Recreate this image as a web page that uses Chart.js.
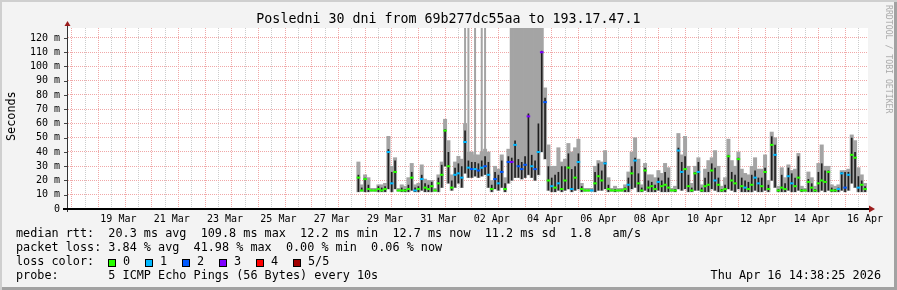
<!DOCTYPE html>
<html>
<head>
<meta charset="utf-8">
<script src="https://cdn.jsdelivr.net/npm/chart.js"></script>
<style>
html,body{margin:0;padding:0;background:#f3f3f3;}
#frame{position:relative;width:897px;height:290px;overflow:hidden;background:#f3f3f3;
  box-shadow:inset 2px 2px 0 #cfcfcf, inset -3px -3px 0 #a2a2a2;
  font-family:"DejaVu Sans Mono",monospace;color:#000;}
#c{position:absolute;left:0;top:0;}
.txt{position:absolute;white-space:pre;font-size:11.8px;line-height:14px;}
#title{position:absolute;left:0;top:10.7px;width:897px;text-align:center;font-size:13.3px;line-height:16px;white-space:pre;}
#ylab{position:absolute;left:3.9px;top:141px;transform-origin:0 0;transform:rotate(-90deg);font-size:11.8px;line-height:14px;white-space:pre;}
#wm{position:absolute;left:893.8px;top:5px;transform-origin:0 0;transform:rotate(90deg);font-size:8.2px;line-height:10px;white-space:pre;color:#aaaaaa;}
.box{position:absolute;top:258.5px;width:6px;height:6px;border:1px solid #000;}
</style>
</head>
<body>
<div id="frame">
  <canvas id="c" width="897" height="290"></canvas>
  <div id="title">Posledni 30 dni from 69b277dc55aa to 193.17.47.1</div>
  <div id="ylab">Seconds</div>
  <div id="wm">RRDTOOL / TOBI OETIKER</div>
  <div id="legend"></div>
</div>
<script>
// ================== Data (3-hour samples from 28 Mar 12:00) ==================
const startDay = 27.5;     // days since 1 Mar 00:00
const stepDays = 0.125;    // 3 hours
const axisMin = 16.6098;   // 17 Mar 14:38
const axisMax = 46.6098;   // 16 Apr 14:38

// median rtt (ms)
const median = [
  22,13,21,14,13,13,14,13,14,40, 18,26,13,13,13,14,22,13,14,21,
  15,14,16,13,18,24,55,30,15,24, 25,22,47,29,28,28,27,29,30,24,
  14,21,18,26,14,33,33,45,30,28, 31,65,30,28,40,110,75,20,16,15,
  18,14,20,29,14,22,33,14,13,13, 13,18,23,20,32,14,13,13,13,13,
  14,17,25,34,18,13,27,15,16,14, 19,16,17,15,13,13,41,26,28,16,
  13,25,26,13,16,17,27,20,17,13, 14,37,20,18,35,16,15,14,17,22,
  18,16,26,14,45,38,13,15,14,23, 18,16,22,13,13,19,15,13,18,20,
  19,26,13,13,14,25,15,24,38,36, 15,17,14
];
// smoke: lowest ping
const smokeLo = [
  12,12.5,12,12,12.5,12.5,12,12,12,14, 12,14,12.5,12,12,12,13,12,12,13,
  12,12,12,12.5,12,15,30,18,13,15, 18,15,25,22,22,23,22,23,24,15,
  12,14,13,15,12,18,20,22,22,21, 22,24,22,20,24,40,35,13,12,12,
  13,12,13,14,12,13,14,12,12.5,12.5, 12.5,12,13,13,14,12,12.5,12,12.5,12.5,
  12,12,14,15,12,12,13,12,12,12, 13,12,12,12,12.5,12,14,13,14,12,
  12,13,13,12,12,12,14,13,12,12, 12,14,13,12,14,12,12,12,12,13,
  12,12,13,12,20,15,12,12,12,13, 12,12,13,12,12.5,12,12,12,12,13,
  12,13,12,12,12,13,12,13,18,15, 12,12,12
];
// smoke: dense (dark) part top
const smokeMid = [
  24,15,22,17,13.5,13.5,16,15,16,42, 26,34,13.5,15,14,17,26,15,16,24,
  18,17,19,13.5,22,31,56,40,20,29, 32,30,55,34,33,33,32,34,37,33,
  17,26,24,34,18,37,36,48,35,33, 37,67,38,34,60,111,78,30,22,24,
  26,30,30,39,28,30,39,16,13.5,13.5, 13.5,26,32,27,33,17,13.5,14,13.5,13.5,
  15,22,30,36,25,15,29,20,19,17, 22,20,26,22,13.5,14,43,33,37,24,
  15,26,33,15,22,26,32,29,22,14, 17,38,26,24,36,22,20,19,24,27,
  22,22,29,17,51,45,14,24,18,29, 25,22,37,14,13.5,21,18,14,26,32,
  27,27,15,14,15,26,26,26,50,40, 23,20,16
];
// smoke: highest ping (body of the smoke)
const smokeHi = [
  33,17,24,22,14.5,14.5,17,17,18,51, 30,36,14.5,17,16,22,32,17,18,31,
  21,20,20,14.5,24,33,63,48,24,33, 37,35,60,40,40,38,38,40,42,40,
  20,30,28,38,22,42,127,127,127,127, 127,127,127,127,127,127,85,45,30,30,
  43,33,35,46,40,43,49,18,14.5,14.5, 14.5,30,34,33,41,22,14.5,16,14.5,14.5,
  17,26,40,50,35,17,32,24,24,22, 27,25,32,29,14.5,16,53,38,51,30,
  18,30,36,17,28,34,36,41,30,16, 22,49,34,30,40,28,25,24,30,36,
  28,28,38,20,54,50,16,29,22,31, 27,28,39,16,14.5,26,22,16,32,45,
  30,30,17,16,17,27,27,28,52,48, 29,24,18
];
// single outlier pings that went off the top of the graph (null = none)
const smokeSpike = [
  null,null,null,null,null,null,null,null,null,null, null,null,null,null,null,null,null,null,null,null,
  null,null,null,null,null,null,null,null,null,null, null,null,127,127,null,127,null,127,127,null,
  null,null,null,null,null,null,null,null,null,null, null,null,null,null,null,null,null,null,null,null,
  null,null,null,null,null,null,null,null,null,null, null,null,null,null,null,null,null,null,null,null,
  null,null,null,null,null,null,null,null,null,null, null,null,null,null,null,null,null,null,null,null,
  null,null,null,null,null,null,null,null,null,null, null,null,null,null,null,null,null,null,null,null,
  null,null,null,null,null,null,null,null,null,null, null,null,null,null,null,null,null,null,null,null,
  null,null,null,null,null,null,null,null,null,null, null,null,null
];
// lost pings out of 5
const loss = [
  0,0,0,0,0,0,0,0,0,1, 1,0,0,0,0,0,0,1,0,1,
  0,0,0,0,0,0,0,0,0,1, 1,1,1,1,2,1,2,1,2,1,
  0,2,1,2,0,2,3,1,2,2, 2,3,1,2,1,3,2,0,1,0,
  1,0,0,0,1,0,1,0,0,0, 1,0,0,0,1,0,0,0,0,0,
  0,1,0,1,0,0,0,0,0,0, 1,0,0,0,0,0,1,1,0,0,
  0,0,1,0,0,0,0,1,0,0, 0,0,0,0,0,0,1,0,0,1,
  1,0,0,0,0,1,0,0,0,1, 1,0,0,0,0,0,0,0,0,0,
  0,0,0,0,1,1,2,1,0,0, 1,0,0
];
const lossColors = ["#26ff00", "#00b8ff", "#0059ff", "#7e00ff", "#ff0000", "#a10000"];
const lossLabels = ["0", "1", "2", "3", "4", "5/5"];
const xLabels = ["19 Mar","21 Mar","23 Mar","25 Mar","27 Mar","29 Mar","31 Mar",
  "02 Apr","04 Apr","06 Apr","08 Apr","10 Apr","12 Apr","14 Apr","16 Apr"];
const firstLabelDay = 18.5; // 19 Mar 12:00, labels every 2 days

const legendLines = [
  "median rtt:  20.3 ms avg  109.8 ms max  12.2 ms min  12.7 ms now  11.2 ms sd  1.8   am/s",
  "packet loss: 3.84 % avg  41.98 % max  0.00 % min  0.06 % now",
  "loss color:",
  "probe:       5 ICMP Echo Pings (56 Bytes) every 10s"
];
const stampText = "Thu Apr 16 14:38:25 2026";
// ================== End Data ==================

// =============== Legend (html text) ===============
function renderLegend(){
  const el=document.getElementById("legend");
  let html="";
  legendLines.forEach((t,k)=>{
    html+=`<div class="txt" style="left:16px;top:${226.4+14*k}px">${t}</div>`;
  });
  lossColors.forEach((c,k)=>{
    html+=`<div class="box" style="left:${108+37*k}px;background:${c}"></div>`;
    html+=`<div class="txt" style="left:${123+37*k}px;top:254.4px">${lossLabels[k]}</div>`;
  });
  html+=`<div class="txt" style="right:16px;top:268.4px">${stampText}</div>`;
  el.innerHTML=html;
}
renderLegend();

// =============== Chart ===============
const times = median.map((_, i) => startDay + i * stepDays);
const PINK = "#f0a8a8", GRAY = "#cccccc", SMOKE = "#a4a4a4";
const tickVal = c => (c && c.tick) ? c.tick.value : NaN;

const axesPlugin = {
  id: "rrdAxes",
  beforeDraw(chart){
    const {ctx, chartArea:a} = chart;
    ctx.save();
    ctx.fillStyle = "#ffffff";
    ctx.fillRect(a.left, a.top, a.right - a.left, a.bottom - a.top);
    ctx.restore();
  },
  afterDraw(chart){
    const {ctx, chartArea:a, scales} = chart;
    ctx.save();
    // small ticks on y axis
    ctx.strokeStyle = "#444"; ctx.lineWidth = 1;
    scales.y.ticks.forEach(t => {
      if (t.value % 10 !== 0) return;
      const y = Math.round(scales.y.getPixelForValue(t.value)) + 0.5;
      ctx.beginPath(); ctx.moveTo(a.left - 4, y); ctx.lineTo(a.left, y); ctx.stroke();
    });
    // y axis
    ctx.strokeStyle = "#333";
    ctx.beginPath(); ctx.moveTo(a.left - 0.5, a.bottom + 3); ctx.lineTo(a.left - 0.5, a.top - 2); ctx.stroke();
    // x axis
    ctx.strokeStyle = "#000"; ctx.lineWidth = 2;
    ctx.beginPath(); ctx.moveTo(a.left - 5, a.bottom); ctx.lineTo(a.right + 2, a.bottom); ctx.stroke();
    // arrows
    ctx.fillStyle = "#9b1c1c";
    ctx.beginPath(); ctx.moveTo(a.left - 0.5, a.top - 7); ctx.lineTo(a.left - 3.5, a.top - 2); ctx.lineTo(a.left + 2.5, a.top - 2); ctx.closePath(); ctx.fill();
    ctx.beginPath(); ctx.moveTo(a.right + 7, a.bottom); ctx.lineTo(a.right + 1, a.bottom - 3.5); ctx.lineTo(a.right + 1, a.bottom + 3.5); ctx.closePath(); ctx.fill();
    ctx.restore();
  }
};

new Chart(document.getElementById("c"), {
  type: "bar",
  data: {
    datasets: [
      {
        type: "line",
        data: times.map((t, i) => ({x: t, y: median[i]})),
        showLine: false,
        pointStyle: "line",
        pointRadius: 1.8,
        pointHoverRadius: 1.8,
        pointBorderWidth: 2,
        pointBorderColor: c => lossColors[loss[c.dataIndex] || 0],
        order: 0
      },
      {
        data: times.map((t, i) => ({x: t, y: [smokeLo[i], smokeMid[i]]})),
        backgroundColor: "#1e1e1e",
        barPercentage: 0.5, categoryPercentage: 1, grouped: false,
        order: 1
      },
      {
        data: times.map((t, i) => ({x: t, y: [smokeLo[i], smokeHi[i]]})),
        backgroundColor: SMOKE,
        barPercentage: 1.0, categoryPercentage: 1, grouped: false,
        order: 2
      },
      {
        data: times.map((t, i) => ({x: t, y: smokeSpike[i] === null ? null : [smokeLo[i], smokeSpike[i]]})),
        backgroundColor: SMOKE,
        barPercentage: 0.6, categoryPercentage: 1, grouped: false,
        order: 3
      }
    ]
  },
  options: {
    responsive: false,
    devicePixelRatio: 1,
    animation: false,
    events: [],
    layout: {padding: {left: 0, top: 28, right: 29, bottom: 0}},
    plugins: {legend: {display: false}, tooltip: {enabled: false}, title: {display: false}},
    scales: {
      x: {
        type: "linear", min: axisMin, max: axisMax, offset: false, z: 1,
        afterBuildTicks: s => {
          const ticks = [];
          for (let v = 17; v <= 46.5; v += 0.5) ticks.push({value: v});
          s.ticks = ticks;
        },
        afterFit: s => { s.height = 81; },
        grid: {drawTicks: false, color: c => Number.isInteger(tickVal(c)) ? PINK : GRAY, lineWidth: 1},
        border: {display: false, dash: [1, 1]},
        ticks: {
          autoSkip: false, maxRotation: 0, padding: 4, color: "#000",
          font: {family: "DejaVu Sans Mono", size: 10},
          callback: v => {
            const k = (v - firstLabelDay) / 2;
            return (Number.isInteger(k) && k >= 0 && k < xLabels.length) ? xLabels[k] : "";
          }
        }
      },
      y: {
        type: "linear", min: 0, max: 127, z: 1,
        afterBuildTicks: s => {
          const ticks = [];
          for (let v = 0; v <= 125; v += 5) ticks.push({value: v});
          s.ticks = ticks;
        },
        afterFit: s => { s.width = 68; },
        grid: {drawTicks: false, color: c => tickVal(c) % 10 === 0 ? PINK : GRAY, lineWidth: 1},
        border: {display: false, dash: [1, 1]},
        ticks: {
          padding: 8, color: "#000",
          font: {family: "DejaVu Sans Mono", size: 10},
          callback: v => v === 0 ? "0" : (v % 10 === 0 ? v + " m" : "")
        }
      }
    }
  },
  plugins: [axesPlugin]
});
</script>
</body>
</html>
